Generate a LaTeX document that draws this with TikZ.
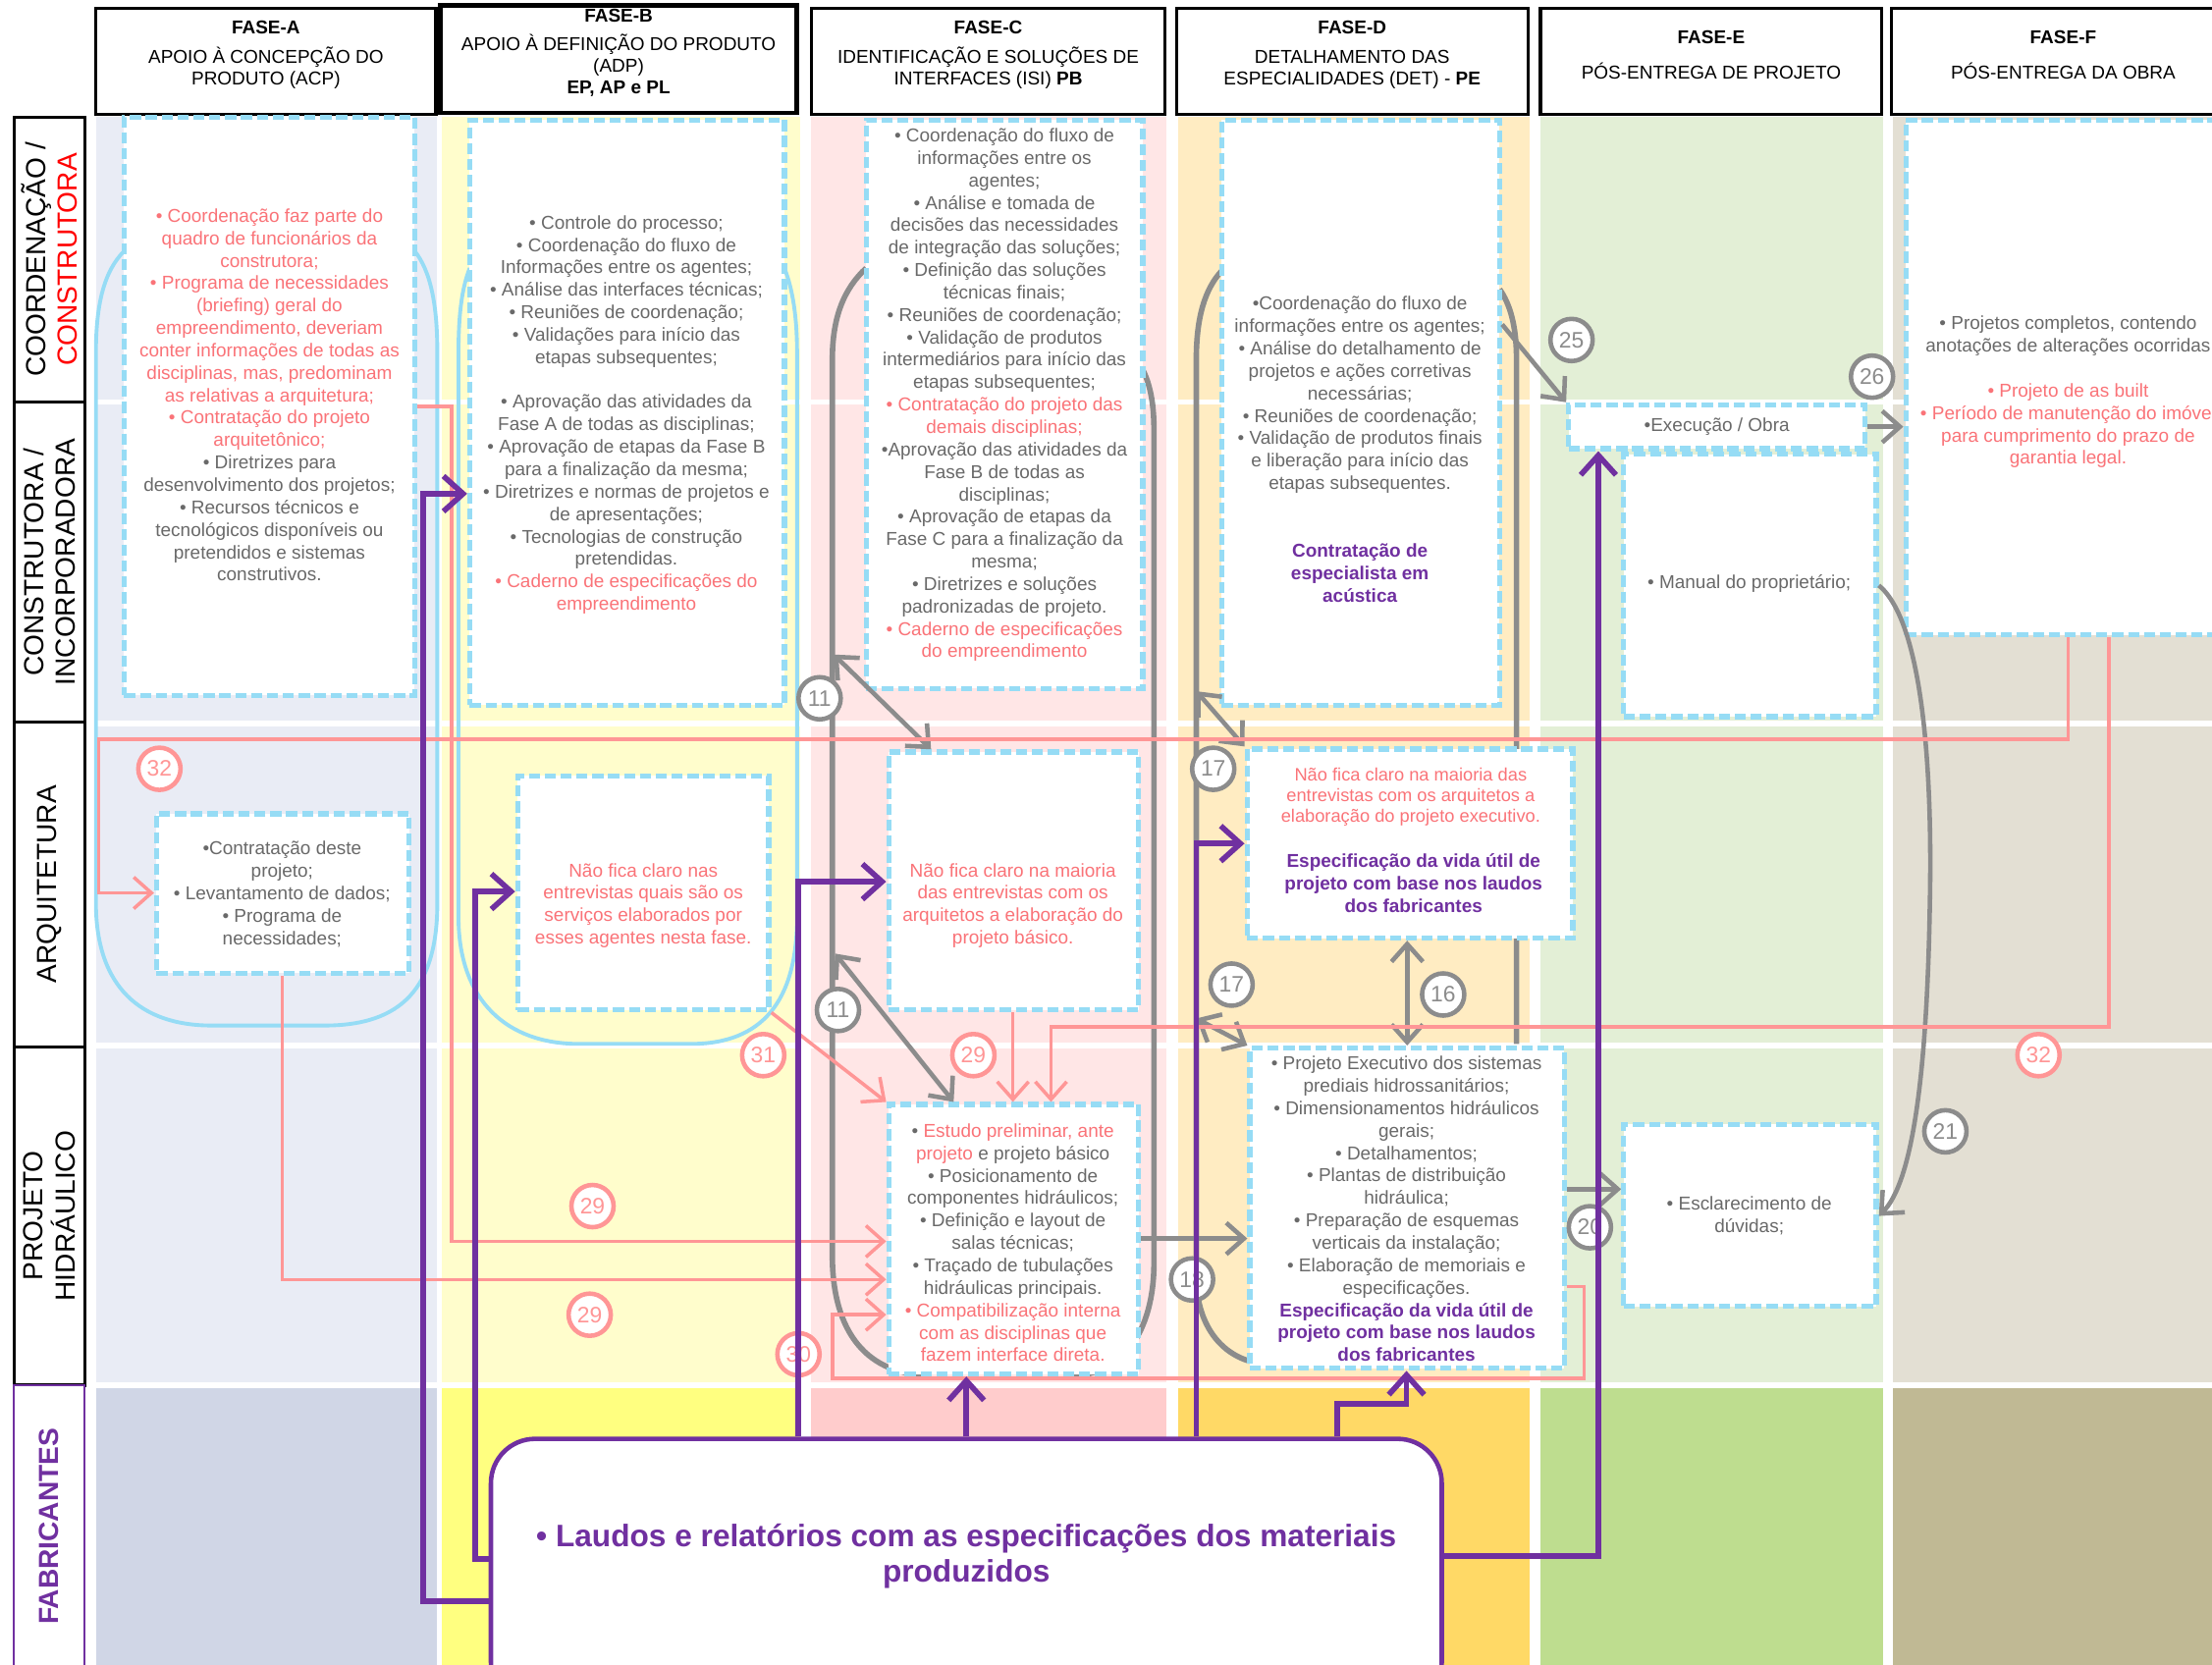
\documentclass[tikz,border=0pt]{standalone}
\usepackage{fontspec}
\setmainfont{Liberation Sans}
\usetikzlibrary{positioning,fit,calc,arrows.meta}

\definecolor{cA}{RGB}{233,236,245}
\definecolor{cAf}{RGB}{208,214,230}
\definecolor{cB}{RGB}{255,253,204}
\definecolor{cBf}{RGB}{255,255,128}
\definecolor{cC}{RGB}{255,230,230}
\definecolor{cCf}{RGB}{255,204,204}
\definecolor{cD}{RGB}{255,236,194}
\definecolor{cDf}{RGB}{255,217,102}
\definecolor{cE}{RGB}{227,239,214}
\definecolor{cEf}{RGB}{190,221,143}
\definecolor{cF}{RGB}{227,223,211}
\definecolor{cFf}{RGB}{192,185,148}
\definecolor{boxblue}{RGB}{150,220,245}
\definecolor{ngray}{RGB}{140,140,140}
\definecolor{tgray}{RGB}{105,105,105}
\definecolor{tred}{RGB}{250,115,120}
\definecolor{pline}{RGB}{255,150,150}
\definecolor{purp}{RGB}{112,48,160}

\newcommand\txtsz{\fontsize{5.4}{6.5}\selectfont}
\newcommand\hdsz{\fontsize{5.4}{6.3}\selectfont}
\newcommand\lanesz{\fontsize{8}{9.2}\selectfont}
\newcommand\rd[1]{\textcolor{tred}{#1}}
\newcommand\pb[1]{\textcolor{purp}{\bfseries #1}}

\begin{document}
\begin{tikzpicture}[x=0.14369mm, y=-0.14369mm,
    dbox/.style={draw=boxblue, line width=1.5pt, dash pattern=on 3.2pt off 1.4pt, fill=white, inner sep=0pt},
    head/.style={draw=black, line width=0.9pt, fill=white, inner sep=0pt, align=center, font=\hdsz},
    lane/.style={draw=black, line width=0.9pt, fill=white, inner sep=0pt},
    lanetxt/.style={rotate=90, align=center, inner sep=0pt, font=\lanesz},
    txt/.style={align=center, inner sep=0pt, font=\txtsz, text=tgray},
    numg/.style={circle, draw=ngray, line width=1.3pt, fill=white, text=ngray, inner sep=0pt, minimum size=4.3mm, font=\fontsize{6.5}{7}\selectfont},
    numr/.style={numg, draw=pline, text=pline},
    garr/.style={draw=ngray, line width=1.3pt, -{Straight Barb[length=1.8mm, width=3.2mm]}},
    gdbl/.style={garr, {Straight Barb[length=1.8mm, width=3.2mm]}-{Straight Barb[length=1.8mm, width=3.2mm]}},
    parr/.style={draw=pline, line width=1pt, -{Straight Barb[length=1.8mm, width=3.2mm]}},
    purr/.style={draw=purp, line width=1.6pt, -{Straight Barb[length=2mm, width=3.6mm]}},
    capb/.style={draw=boxblue, line width=1.1pt},
    capg/.style={draw=ngray, line width=1.6pt},
    sep/.style={draw=white, line width=1.6pt}]

\useasboundingbox (0,0) rectangle (1568,1180);
\clip (0,0) rectangle (1568,1180);
\fill[white] (0,0) rectangle (1568,1180);

% columns
\fill[cA] (68,83) rectangle (310,982);   \fill[cAf] (68,982) rectangle (310,1180);
\fill[cB] (313,83) rectangle (567,982);  \fill[cBf] (313,982) rectangle (567,1180);
\fill[cC] (575,83) rectangle (827,982);  \fill[cCf] (575,982) rectangle (827,1180);
\fill[cD] (835,83) rectangle (1084,982); \fill[cDf] (835,982) rectangle (1084,1180);
\fill[cE] (1092,83) rectangle (1335,982); \fill[cEf] (1092,982) rectangle (1335,1180);
\fill[cF] (1342,83) rectangle (1568,982); \fill[cFf] (1342,982) rectangle (1568,1180);
\foreach \yy in {285,513,741,982} \draw[sep] (66,\yy) -- (1568,\yy);

% lanes
\node[lane, fit={(10,83) (60,285)}] (lnCoord) {};
\node[lanetxt] (tlnCoord) at (lnCoord) {COORDENAÇÃO /\\\textcolor{red}{CONSTRUTORA}};
\node[lane, fit={(10,285) (60,512)}] (lnConst) {};
\node[lanetxt] (tlnConst) at (lnConst) {CONSTRUTORA /\\INCORPORADORA};
\node[lane, fit={(10,512) (60,742)}] (lnArq) {};
\node[lanetxt] (tlnArq) at (lnArq) {ARQUITETURA};
\node[lane, fit={(10,742) (60,982)}] (lnHid) {};
\node[lanetxt] (tlnHid) at (lnHid) {PROJETO\\HIDRÁULICO};
\node[lane, draw=purp, line width=0.6pt, fit={(10,982) (60,1185)}] (lnFab) {};
\node[lanetxt, text=purp, font=\lanesz\bfseries] (tlnFab) at (35,1082) {FABRICANTES};

% headers
\node[head, fit={(68,6) (309,81)}] (hA) {\textbf{FASE-A}\\[2pt]APOIO À CONCEPÇÃO DO\\PRODUTO (ACP)};
\node[head, line width=1.4pt, fit={(312,4) (565,80)}] (hB) {\textbf{FASE-B}\\[2pt]APOIO À DEFINIÇÃO DO PRODUTO\\(ADP)\\\textbf{EP, AP e PL}};
\node[head, fit={(575,6) (826,81)}] (hC) {\textbf{FASE-C}\\[2pt]IDENTIFICAÇÃO E SOLUÇÕES DE\\INTERFACES (ISI) \textbf{PB}};
\node[head, fit={(834,6) (1083,81)}] (hD) {\textbf{FASE-D}\\[2pt]DETALHAMENTO DAS\\ESPECIALIDADES (DET) - \textbf{PE}};
\node[head, fit={(1092,6) (1334,81)}] (hE) {\textbf{FASE-E}\\[4pt]PÓS-ENTREGA DE PROJETO};
\node[head, fit={(1341,6) (1584,81)}] (hF) {\textbf{FASE-F}\\[4pt]PÓS-ENTREGA DA OBRA};

% capsules
\draw[capb] (88,178) .. controls (74,192) and (68,215) .. (68,250) -- (68,640)
  .. controls (68,700) and (100,727) .. (150,727) -- (230,727)
  .. controls (285,727) and (310,700) .. (310,640) -- (310,250)
  .. controls (310,215) and (305,192) .. (294,178);
\draw[capb] (333,190) .. controls (327,205) and (325,225) .. (325,250) -- (325,650)
  .. controls (325,710) and (360,740) .. (410,740) -- (490,740)
  .. controls (540,740) and (565,710) .. (565,650) -- (565,250)
  .. controls (565,225) and (562,205) .. (556,190);
\draw[capg] (614,190) .. controls (598,205) and (590,225) .. (590,255) -- (590,890)
  .. controls (590,945) and (615,975) .. (660,975);
\draw[capg] (810,262) .. controls (815,272) and (818,285) .. (818,305) -- (818,895)
  .. controls (818,945) and (795,975) .. (760,975);
\draw[capg] (866,192) .. controls (854,205) and (848,225) .. (848,255) -- (848,905)
  .. controls (848,935) and (862,958) .. (886,965);
\draw[capg] (1063,205) .. controls (1070,215) and (1075,230) .. (1075,255) -- (1075,740);

% boxes
\node[dbox, fit={(88,83) (294,493)}] (coordA) {};
\node[dbox, fit={(333,85) (556,500)}] (coordB) {};
\node[dbox, fit={(614,85) (810,488)}] (coordC) {};
\node[dbox, fit={(866,85) (1063,500)}] (coordD) {};
\node[dbox, fit={(1351,85) (1600,450)}] (boxF) {};
\node[dbox, fit={(1112,287) (1322,318)}] (exec) {};
\node[dbox, fit={(1151,322) (1330,508)}] (manual) {};
\node[dbox, fit={(111,577) (290,690)}] (arqA) {};
\node[dbox, fit={(367,550) (545,716)}] (arqB) {};
\node[dbox, fit={(630,533) (807,716)}] (arqC) {};
\node[dbox, fit={(884,531) (1115,665)}] (arqD) {};
\node[dbox, fit={(630,783) (807,974)}] (hidC) {};
\node[dbox, fit={(886,743) (1109,970)}] (hidD) {};
\node[dbox, fit={(1151,797) (1330,926)}] (hidE) {};

% texts
\node[txt] (tA) at (191,280) {\rd{• Coordenação faz parte do}\\\rd{quadro de funcionários da}\\\rd{construtora;}\\\rd{• Programa de necessidades}\\\rd{(briefing) geral do}\\\rd{empreendimento, deveriam}\\\rd{conter informações de todas as}\\\rd{disciplinas, mas,  predominam}\\\rd{as relativas a arquitetura;}\\\rd{• Contratação do projeto}\\\rd{arquitetônico;}\\• Diretrizes para\\desenvolvimento dos projetos;\\• Recursos técnicos e\\tecnológicos disponíveis ou\\pretendidos e sistemas\\construtivos.};
\node[txt] (tB) at (444,294) {• Controle do processo;\\• Coordenação do fluxo de\\Informações entre os agentes;\\• Análise das interfaces técnicas;\\• Reuniões de coordenação;\\• Validações para início das\\etapas subsequentes;\\[6.5pt]• Aprovação das atividades da\\Fase A de todas as disciplinas;\\• Aprovação  de etapas da Fase B\\para a finalização da mesma;\\• Diretrizes e normas de projetos e\\de apresentações;\\• Tecnologias de construção\\pretendidas.\\\rd{• Caderno de especificações do}\\\rd{empreendimento}};
\node[txt] (tC) at (712,280) {• Coordenação do fluxo de\\informações entre os\\agentes;\\• Análise e tomada de\\decisões das necessidades\\de integração das soluções;\\• Definição das soluções\\técnicas finais;\\• Reuniões de coordenação;\\• Validação de produtos\\intermediários para início das\\etapas subsequentes;\\\rd{• Contratação do projeto das}\\\rd{demais disciplinas;}\\•Aprovação das atividades da\\Fase B de todas as\\disciplinas;\\• Aprovação  de etapas da\\Fase C para a finalização da\\mesma;\\• Diretrizes e soluções\\padronizadas de projeto.\\\rd{• Caderno de especificações}\\\rd{do empreendimento}};
\node[txt] (tD) at (964,280) {•Coordenação do fluxo de\\informações entre os agentes;\\• Análise do detalhamento de\\projetos e ações corretivas\\necessárias;\\• Reuniões de coordenação;\\• Validação de produtos finais\\e liberação para início das\\etapas subsequentes.};
\node[txt] (tD2) at (964,406) {\pb{Contratação de}\\\pb{especialista em}\\\pb{acústica}};
\node[txt] (tF) at (1466,278) {• Projetos completos, contendo\\anotações de alterações ocorridas\\[6.5pt]\rd{• Projeto de as built}\\\rd{• Período de manutenção do imóvel}\\\rd{para cumprimento do prazo de}\\\rd{garantia legal.}};
\node[txt] (tExec) at (exec) {•Execução / Obra};
\node[txt] (tMan) at (1240,414) {• Manual do proprietário;};
\node[txt] (taA) at (200,634) {•Contratação deste\\projeto;\\• Levantamento de dados;\\• Programa de\\necessidades;};
\node[txt, text=tred] (taB) at (456,642) {Não fica claro nas\\entrevistas quais são os\\serviços elaborados por\\esses agentes nesta fase.};
\node[txt, text=tred] (taC) at (718,642) {Não fica claro na maioria\\das entrevistas com os\\arquitetos a elaboração do\\projeto básico.};
\node[txt, text=tred, font=\fontsize{5.2}{5.9}\selectfont] (taD) at (1000,565) {Não fica claro na maioria das\\entrevistas com os arquitetos a\\elaboração do projeto executivo.};
\node[txt] (taD2) at (1002,626) {\pb{Especificação da vida útil de}\\\pb{projeto com base nos laudos}\\\pb{dos fabricantes}};
\node[txt] (thC) at (718,881) {• \rd{Estudo preliminar, ante}\\\rd{projeto} e projeto básico\\• Posicionamento de\\componentes hidráulicos;\\• Definição e layout de\\salas técnicas;\\• Traçado de tubulações\\hidráulicas principais.\\\rd{• Compatibilização interna}\\\rd{com as disciplinas que}\\\rd{fazem interface direta.}};
\node[txt] (thD) at (997,857) {• Projeto Executivo dos sistemas\\prediais hidrossanitários;\\• Dimensionamentos hidráulicos\\gerais;\\• Detalhamentos;\\• Plantas de distribuição\\hidráulica;\\• Preparação de esquemas\\verticais da instalação;\\• Elaboração de memoriais e\\especificações.\\\pb{Especificação da vida útil de}\\\pb{projeto com base nos laudos}\\\pb{dos fabricantes}};
\node[txt] (thE) at (1240,862) {• Esclarecimento de\\dúvidas;};

% gray flows
\coordinate (kC1) at (591,464);
\coordinate (kC2) at (592,676);
\coordinate (kD1) at (848,490);
\coordinate (kD2) at (848,722);
\draw[gdbl] (kC1) -- (arqC.north -| 660,0);
\draw[gdbl] (kC2) -- (hidC.north -| 676,0);
\draw[gdbl] (kD1) -- (arqD.north west);
\draw[gdbl] (kD2) -- (hidD.north west);
\draw[gdbl] (hidD.north |- arqD.south) -- (hidD.north);
\draw[garr] (hidC.east |- 0,878) -- (hidD.west |- 0,878);
\draw[garr] (hidD.east |- 0,843) -- (hidE.west |- 0,843);
\draw[garr] (coordD.east |- 0,230) -- (exec.north west);
\draw[garr] (exec.east) -- (boxF.west |- exec.east);
\draw[garr] (manual.east) .. controls (1362,440) and (1370,540) .. (1368,640)
  .. controls (1366,760) and (1356,838) .. (hidE.east |- 0,862);

% pink flows
\draw[parr] (boxF.south -| 1466,0) |- (70,524) |- (arqA.west |- 0,633);
\draw[parr] (boxF.south -| 1495,0) |- (745,728) -- (hidC.north -| 745,0);
\draw[parr] (arqB.south east) -- (hidC.north west);
\draw[parr] (arqC.south -| 718,0) -- (hidC.north -| 718,0);
\draw[parr] (coordA.east |- 0,288) -| (320,880) -- (hidC.west |- 0,880);
\draw[parr] (arqA.south -| 200,0) |- (hidC.west |- 0,907);
\draw[parr] (hidD.east |- 0,912) -| (1123,977) -| (590,932) -- (hidC.west |- 0,932);

% numbers
\node[numg] (n11a) at (581,495) {11};
\node[numg] (n11b) at (594,716) {11};
\node[numg] (n17a) at (860,545) {17};
\node[numg] (n17b) at (873,698) {17};
\node[numg] (n16) at (1023,705) {16};
\node[numg] (n18) at (845,907) {18};
\node[numg] (n20) at (1127,870) {20};
\node[numg] (n21) at (1379,802) {21};
\node[numg] (n25) at (1114,241) {25};
\node[numg] (n26) at (1327,267) {26};
\node[numr] (n32a) at (113,545) {32};
\node[numr] (n32b) at (1445,748) {32};
\node[numr] (n31) at (541,748) {31};
\node[numr] (n29a) at (690,748) {29};
\node[numr] (n29b) at (420,855) {29};
\node[numr] (n29c) at (418,932) {29};
\node[numr] (n30) at (566,960) {30};

% fabricantes
\node[draw=purp, line width=1.3pt, fill=white, rounded corners=4.5mm, inner sep=0pt, fit={(348,1020) (1022,1210)}] (fab) {};
\node[txt, text=purp, font=\fontsize{9}{10.3}\selectfont\bfseries] (tfab) at (685,1103) {• Laudos e relatórios com as especificações dos materiais\\produzidos};
\draw[purr] (fab.west |- 0,1135) -| (300,350) -- (coordB.west |- 0,350);
\draw[purr] (fab.west |- 0,1105) -| (337,632) -- (arqB.west |- 0,632);
\draw[purr] (fab.north -| 566,0) |- (arqC.west |- 0,625);
\draw[purr] (fab.north -| 685,0) -- (hidC.south -| 685,0);
\draw[purr] (fab.north -| 848,0) |- (arqD.west |- 0,598);
\draw[purr] (fab.north -| 948,0) |- (997,995) -- (hidD.south -| 997,0);
\draw[purr] (fab.east |- 0,1103) -| (exec.south -| 1133,0);
\end{tikzpicture}
\end{document}
